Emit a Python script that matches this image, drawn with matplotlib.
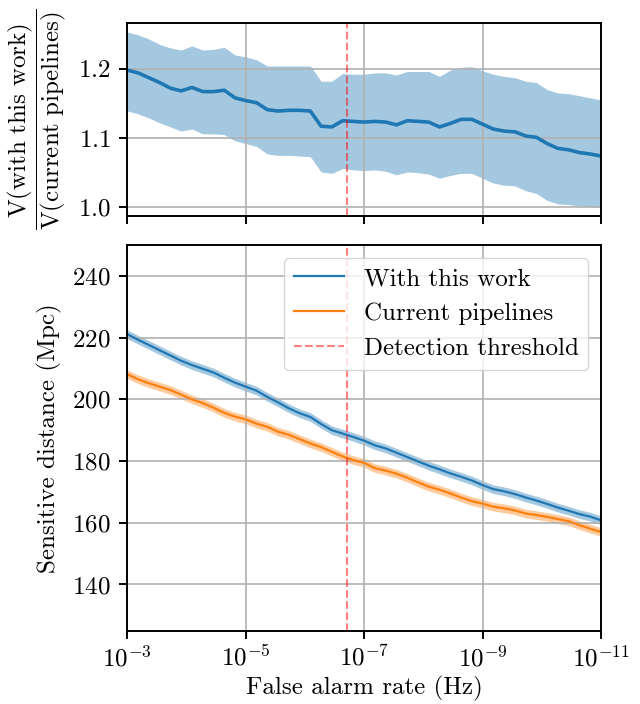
import numpy as np
import matplotlib
matplotlib.use("Agg")
import matplotlib.pyplot as plt
from matplotlib.ticker import NullLocator

plt.rcParams["font.family"] = "serif"
plt.rcParams["font.serif"] = ["cmr10"]
plt.rcParams["mathtext.fontset"] = "cm"
plt.rcParams["axes.formatter.use_mathtext"] = True
plt.rcParams["font.size"] = 18
plt.rcParams["axes.linewidth"] = 1.4
plt.rcParams["axes.labelpad"] = 7
plt.rcParams["grid.linewidth"] = 1.2
for ax_name in ("xtick", "ytick"):
    plt.rcParams[ax_name + ".major.size"] = 6
    plt.rcParams[ax_name + ".major.width"] = 1.4
    plt.rcParams[ax_name + ".major.pad"] = 6
plt.rcParams["xtick.major.pad"] = 4.5

# false alarm rate grid (Hz), 45 points from 1e-3 down to 1e-11
far = np.logspace(-3, -11, 45)
threshold = 1.93e-7  # one per two months

# volume ratio and its band
ratio = [1.198, 1.194, 1.187, 1.180, 1.172, 1.168, 1.173, 1.167, 1.167, 1.169,
         1.158, 1.154, 1.151, 1.141, 1.139, 1.140, 1.140, 1.139, 1.117, 1.116,
         1.125, 1.124, 1.123, 1.124, 1.123, 1.119, 1.125, 1.124, 1.123, 1.116,
         1.121, 1.127, 1.127, 1.120, 1.113, 1.110, 1.109, 1.103, 1.101, 1.092,
         1.085, 1.083, 1.079, 1.077, 1.074]
ratio_hi = [1.253, 1.249, 1.243, 1.235, 1.230, 1.227, 1.233, 1.227, 1.228, 1.231,
            1.220, 1.217, 1.213, 1.204, 1.204, 1.204, 1.204, 1.204, 1.182, 1.182,
            1.193, 1.192, 1.192, 1.194, 1.194, 1.191, 1.196, 1.196, 1.196, 1.189,
            1.198, 1.202, 1.203, 1.197, 1.192, 1.189, 1.187, 1.182, 1.180, 1.170,
            1.165, 1.164, 1.161, 1.158, 1.155]
ratio_lo = [1.139, 1.135, 1.129, 1.122, 1.116, 1.110, 1.113, 1.106, 1.106, 1.105,
            1.096, 1.092, 1.088, 1.077, 1.075, 1.075, 1.074, 1.073, 1.051, 1.049,
            1.056, 1.054, 1.053, 1.054, 1.052, 1.047, 1.051, 1.050, 1.048, 1.042,
            1.046, 1.049, 1.049, 1.042, 1.035, 1.032, 1.031, 1.024, 1.020, 1.010,
            1.005, 1.004, 1.002, 1.001, 1.000]

# sensitive distance (Mpc)
dist_new = [221.1, 219.3, 217.6, 215.9, 214.2, 212.5, 211.1, 209.9, 208.7, 207.0,
            205.4, 204.1, 202.8, 200.8, 199.0, 197.1, 195.5, 194.3, 192.0, 190.0,
            188.9, 187.8, 186.6, 185.1, 184.1, 182.7, 181.3, 179.9, 178.5, 177.3,
            176.0, 174.9, 173.7, 172.2, 170.9, 170.2, 169.3, 168.2, 167.2, 166.1,
            164.9, 163.9, 162.8, 162.0, 160.8]
dist_cur = [208.1, 206.5, 205.2, 204.1, 203.0, 201.5, 200.0, 198.8, 197.3, 195.6,
            194.4, 193.5, 192.1, 191.1, 189.5, 188.5, 187.1, 185.7, 184.5, 183.0,
            181.5, 180.3, 179.4, 177.7, 176.9, 175.9, 174.6, 173.1, 171.7, 170.7,
            169.5, 168.2, 167.0, 166.2, 165.2, 164.7, 164.0, 163.0, 162.5, 161.9,
            161.2, 160.5, 159.2, 158.1, 157.0]
err_new = 1.4
err_cur = 1.4

dist_new = np.array(dist_new)
dist_cur = np.array(dist_cur)

fig, (ax1, ax2) = plt.subplots(2, 1, sharex=True, figsize=(6.4, 7.04),
                               gridspec_kw={"height_ratios": [1, 2]})
fig.subplots_adjust(left=0.199, right=0.939, top=0.967, bottom=0.104, hspace=0.1)

ax1.fill_between(far, ratio_lo, ratio_hi, color="C0", alpha=0.4, linewidth=0)
ax1.plot(far, ratio, color="C0", lw=2.6)
ax1.axvline(threshold, color="r", ls="--", alpha=0.5, lw=1.5)
ax1.set_xscale("log")
ax1.set_xlim(1e-3, 1e-11)
ax1.set_yticks([1.0, 1.1, 1.2])
ax1.grid(True)
ax1.set_ylabel(r"$\dfrac{\mathrm{V(with\ this\ work)}}{\mathrm{V(current\ pipelines)}}$")

ax2.fill_between(far, dist_new - err_new, dist_new + err_new, color="C0", alpha=0.4, linewidth=0)
ax2.plot(far, dist_new, color="C0", lw=1.6, label="With this work")
ax2.fill_between(far, dist_cur - err_cur, dist_cur + err_cur, color="C1", alpha=0.4, linewidth=0)
ax2.plot(far, dist_cur, color="C1", lw=1.6, label="Current pipelines")
ax2.axvline(threshold, color="r", ls="--", alpha=0.5, lw=1.5, label="Detection threshold")
ax2.set_ylim(125, 250)
ax2.set_yticks([140, 160, 180, 200, 220, 240])
ax2.set_xticks([1e-3, 1e-5, 1e-7, 1e-9, 1e-11])
ax2.xaxis.set_minor_locator(NullLocator())
ax2.grid(True)
ax2.legend(loc="upper right")
ax2.set_xlabel("False alarm rate (Hz)", labelpad=3)
ax2.set_ylabel("Sensitive distance (Mpc)")

fig.savefig("out.png", dpi=100)
